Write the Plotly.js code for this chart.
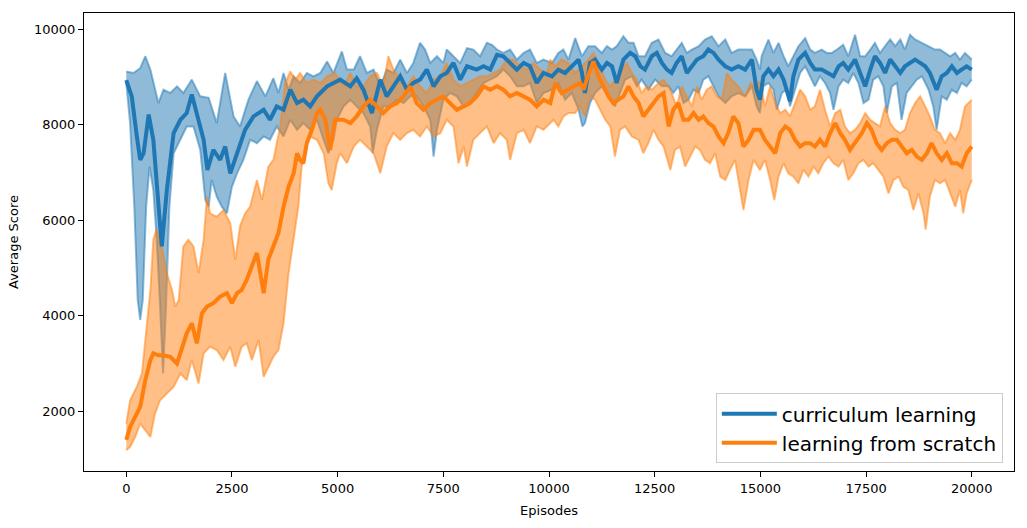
<!DOCTYPE html>
<html>
<head>
<meta charset="utf-8">
<script src="https://cdn.plot.ly/plotly-3.0.1.min.js"></script>
<style>
  html, body { margin: 0; padding: 0; background: #fff; }
  #chart { width: 1027px; height: 528px; }
</style>
</head>
<body>
<div id="chart"></div>
<script>
// values (episode, score)

var blueMeanEp = [0,130,250,330,410,530,640,760,840,960,1120,1280,1430,1550,1670,1830,1920,2060,2220,2340,2460,2620,2810,3010,3250,3400,3560,3720,3880,4040,4190,4350,4510,4750,
  5060,5300,5450,5610,5810,6010,6160,6320,6480,6640,6790,6950,7110,7270,7430,7580,7740,7900,8060,8290,8450,8610,8770,8920,9080,9240,9400,9550,9710,9870,
  10070,10220,10380,10540,10700,10780,10850,10970,11090,11250,11370,11490,11600,11760,11920,12040,12160,12270,12430,12550,12670,12790,12900,13020,13140,13260,13380,13500,13650,13770,13890,14010,14170,14320,14480,14640,14800,14910,14990,
  15070,15190,15310,15430,15550,15700,15780,15900,16060,16180,16290,16450,16610,16730,16850,16960,17080,17240,17360,17480,17600,17710,17830,17950,18070,18190,18310,18420,18540,18660,18780,18900,19010,19170,19290,19410,19530,19650,19760,19880,20000];
var blueMean = [8930,8590,7750,7260,7400,8210,7680,6280,5450,6630,7820,8100,8240,8630,8240,7680,7050,7470,7260,7540,6980,7400,7890,8170,8310,8100,8380,8310,8730,8450,8520,8380,8590,8800,
  8940,8800,8970,8730,8240,8940,8590,8800,9010,8730,8870,8940,9150,8800,9010,9080,9290,8940,9220,9150,9220,9150,9460,9430,9290,9150,9290,9220,8870,9080,
  9010,9150,9080,9220,9360,9080,8660,9290,9360,9150,9290,9220,8870,9360,9500,9430,9220,9150,9430,9500,9290,9150,9080,9290,9430,9080,9220,9360,9430,9570,9500,9360,9220,9150,9220,9150,9360,8730,8520,
  9010,9150,9010,9150,8940,8490,9010,9360,9500,9290,9150,9150,9080,9010,9220,9290,9150,9360,9080,8800,9150,9430,9290,9080,9360,9220,9080,9220,9290,9360,9290,9220,9080,8730,9010,9080,9220,9080,9150,9220,9150];

var blueUpEp = [0,170,330,450,570,640,760,880,1040,1200,1350,1550,1750,1950,2140,2340,2540,2690,2890,3090,3290,3480,3600,3720,3840,3960,4110,4270,4430,4590,4750,4900,
  5100,5220,5380,5530,5690,5850,6010,6160,6320,6480,6640,6790,6950,7070,7190,7350,7500,7580,7740,7900,8060,8210,8370,8530,8650,8770,8920,9080,9240,9400,9550,9710,9870,
  10070,10220,10340,10460,10620,10780,10930,11090,11250,11370,11490,11600,11760,11880,12000,12120,12270,12430,12590,12750,12900,13020,13140,13260,13380,13540,13690,13850,14010,14170,14320,14480,14640,14800,14910,14990,
  15030,15190,15310,15430,15550,15660,15780,15900,16060,16180,16290,16450,16570,16690,16810,16960,17080,17240,17360,17480,17600,17710,17830,17950,18070,18190,18310,18420,18540,18660,18820,18980,19130,19250,19370,19490,19610,19720,19840,20000];
var blueUp = [9110,9080,9180,9430,9150,8870,8450,8730,8660,8800,8660,8940,8590,8560,8030,9080,8170,7960,8520,8910,8590,8970,8660,9080,8730,9010,8870,9080,9010,9080,9320,9080,
  9530,9150,9150,9430,9080,9150,8800,9150,9080,9360,9080,9290,9710,9570,9290,9430,9290,9570,9430,9290,9600,9570,9430,9710,9670,9570,9500,9570,9360,9500,9570,9290,9360,
  9290,9500,9570,9360,9810,9430,9640,9640,9500,9640,9570,9640,9850,9710,9710,9430,9430,9710,9780,9500,9430,9570,9710,9500,9570,9640,9780,9850,9640,9780,9500,9570,9570,9570,9360,9150,
  9430,9780,9500,9710,9430,9220,9430,9640,9810,9570,9500,9570,9500,9500,9570,9670,9430,9880,9430,9430,9570,9710,9500,9640,9780,9640,9780,9570,9880,9780,9710,9640,9570,9570,9500,9430,9500,9360,9500,9360];

var blueLoEp = [0,90,190,270,330,390,470,550,640,720,800,870,940,1020,1120,1280,1430,1590,1750,1870,1950,2020,2140,2260,2380,2500,2620,2770,2930,3090,3250,3400,3560,3720,3880,4040,4190,4350,4510,4670,4780,4900,
  4980,5140,5300,5450,5610,5770,5830,5930,6080,6240,6400,6560,6720,6870,7030,7190,7270,7350,7500,7660,7820,7980,8130,8290,8450,8610,8770,8920,9080,9240,9400,9550,9710,9870,
  10070,10220,10380,10540,10700,10790,10850,10970,11090,11250,11410,11560,11680,11800,11960,12080,12190,12350,12510,12670,12830,12940,13060,13180,13300,13420,13540,13650,13770,13890,14010,14170,14320,14480,14640,14800,14910,14990,
  15070,15190,15310,15390,15510,15620,15700,15820,15940,16060,16180,16290,16410,16530,16650,16730,16850,16960,17080,17200,17320,17440,17560,17670,17790,17910,17990,18110,18230,18340,18460,18580,18700,18820,18980,19090,19170,19290,19410,19530,19650,19760,19880,20000];
var blueLo = [8870,8030,6280,4330,3910,4330,6280,7120,6630,5590,4190,2790,4190,6280,7400,7680,7960,7960,7470,6420,6280,6840,6490,6280,6140,6700,6980,7260,7680,7610,7750,7680,7960,7750,8100,7890,8030,7890,8100,7680,7400,7680,
  8100,8380,8520,8380,8240,7960,7400,7890,8380,8380,8520,8450,8590,8590,8380,8100,7330,7890,8520,8660,8590,8380,8450,8660,8870,8940,9010,9150,9010,8800,8800,8870,8450,8660,
  8730,8870,8520,8660,8310,7960,8030,8450,8660,8800,8590,8380,8660,8940,9010,8800,8940,8730,8940,8800,8800,8660,8800,8450,8520,8730,8660,8940,9010,8800,8590,8450,8590,8660,8590,8800,8380,8240,
  8800,8870,8730,8310,8660,8730,8380,8730,9080,9220,9010,8800,9010,8870,8660,8310,8800,8940,8870,9080,8870,8450,8520,8940,9010,8800,8240,8800,8870,8100,8660,8800,8940,9010,8730,8380,7890,8590,8520,8730,8660,8870,8800,8940];

var orangeMeanEp = [0,90,210,330,450,570,640,760,880,1040,1200,1310,1430,1550,1670,1790,1910,2060,2220,2380,2500,2620,2730,2850,2970,3090,3170,3250,3360,3480,3600,3720,3840,3960,4040,4110,4190,4270,4390,4510,4590,4710,4820,4940,
  5140,5300,5450,5610,5770,5930,6080,6240,6400,6560,6720,6870,7030,7190,7350,7500,7660,7820,7980,8130,8290,8450,8610,8770,8920,9080,9240,9400,9550,9710,9870,
  10030,10150,10300,10460,10620,10740,10820,10890,11050,11170,11290,11410,11520,11640,11760,11880,12000,12120,12230,12350,12470,12590,12710,12830,12940,13060,13180,13300,13420,13540,13650,13770,13890,14010,14130,14240,14360,14480,14600,14720,14840,14990,
  15110,15230,15350,15470,15590,15700,15820,15940,16060,16180,16290,16410,16530,16650,16770,16890,17000,17120,17240,17400,17520,17630,17750,17870,17990,18110,18230,18340,18460,18580,18700,18820,18940,19050,19170,19290,19410,19530,19650,19760,19880,20000];
var orangeMean = [1400,1670,1880,2090,2650,3070,3210,3170,3170,3140,3000,3280,3630,3840,3420,4050,4190,4260,4400,4470,4260,4470,4540,4750,5030,5310,4890,4470,5170,5450,5730,6280,6700,6980,7400,7260,7190,7610,7890,8240,8310,8100,7470,8100,
  8100,8030,8170,8380,8520,8380,8240,8380,8450,8590,8800,8450,8310,8450,8520,8590,8450,8310,8380,8450,8590,8800,8730,8800,8730,8590,8660,8590,8520,8380,8520,
  8450,8870,8660,8730,8800,8870,8730,8940,9320,9010,8800,8590,8450,8520,8590,8800,8590,8450,8170,8310,8450,8590,8660,7960,8310,8450,8100,8100,8240,8100,8170,8030,7960,7750,7610,7820,8170,8030,7540,7680,7890,7890,
  7680,7540,7400,7820,7960,7890,7680,7540,7610,7610,7540,7680,7540,7820,8030,7820,7680,7470,7610,7820,8030,7890,7610,7470,7610,7680,7680,7540,7400,7470,7330,7260,7400,7610,7400,7260,7400,7190,7190,7120,7400,7540];

var orangeUpEp = [0,90,250,370,450,570,640,710,840,960,1080,1160,1240,1350,1470,1590,1710,1830,1910,1980,2140,2300,2460,2580,2690,2810,2930,3090,3210,3360,3480,3640,3760,3880,4000,4110,4270,4430,4590,4750,4940,
  5140,5300,5450,5610,5770,5930,6080,6200,6320,6480,6640,6790,6950,7110,7270,7430,7580,7740,7900,8060,8210,8370,8530,8690,8840,9000,9160,9320,9480,9630,9790,9950,
  10030,10150,10300,10460,10620,10780,10930,11050,11170,11330,11450,11560,11680,11840,11960,12080,12190,12310,12430,12590,12710,12830,12900,13020,13140,13260,13380,13500,13610,13730,13850,13970,14090,14210,14320,14480,14640,14760,14880,14990,
  15110,15230,15350,15470,15590,15700,15820,15940,16060,16180,16290,16410,16530,16650,16770,16890,17000,17120,17240,17360,17480,17600,17710,17830,17950,18070,18190,18310,18420,18540,18660,18780,18900,19010,19130,19250,19370,19490,19610,19720,19840,20000];
var orangeUp = [1740,2230,2510,2790,3490,4540,5590,5800,5450,4890,4540,4190,4330,5450,5590,5450,4890,5590,6490,6140,6070,6210,5940,5170,5870,6140,6280,6840,6420,7120,7260,7960,8870,9110,8940,9080,8870,8940,8870,9010,9080,
  8800,9080,8800,8800,9010,9080,8800,9430,9150,8940,8800,9010,8800,8660,8940,9010,9290,8940,8800,8870,8940,9010,9010,9080,9150,9360,9360,9220,9150,9290,9150,9080,
  9360,9220,9360,9290,9080,9220,9360,9500,9290,8940,8800,8940,9080,9290,9080,8940,8660,8800,8730,8870,8940,8800,8660,8380,8800,8590,8380,8800,8520,8730,8800,8590,8520,9080,8940,8800,8590,8870,8800,8900,
  8380,8800,8450,8240,8310,8170,8450,8730,8590,8310,8380,8730,8310,7960,8240,8310,7960,7820,7890,8030,8240,8100,8030,7960,8380,8030,7890,7820,7890,8240,8450,8590,8380,8170,7890,7820,7610,7820,7680,7890,8380,8520];

var orangeLoEp = [0,90,210,330,450,570,680,800,960,1120,1280,1430,1550,1710,1830,1980,2140,2300,2460,2580,2730,2850,2970,3130,3250,3360,3480,3600,3720,3840,3960,4070,4150,4230,4350,4510,4670,4780,4860,
  4980,5060,5220,5380,5530,5690,5850,6010,6160,6320,6480,6640,6790,6950,7110,7270,7430,7580,7740,7860,7980,8060,8210,8370,8530,8690,8840,9000,9080,9240,9400,9550,9710,9870,10030,
  10110,10220,10340,10460,10620,10740,10850,10970,11090,11210,11330,11450,11560,11680,11800,11960,12120,12230,12350,12470,12590,12710,12870,12980,13100,13220,13340,13460,13570,13690,13810,13930,14050,14170,14280,14400,14520,14600,14720,14840,14990,
  15110,15230,15330,15430,15550,15660,15780,15900,16020,16140,16260,16370,16490,16610,16730,16850,16960,17080,17200,17320,17440,17560,17670,17790,17910,18030,18150,18270,18380,18500,18620,18740,18860,18910,19010,19130,19250,19370,19490,19610,19720,19800,19880,20000];
var orangeLo = [1180,1250,1460,1740,1600,1460,1950,2230,2370,2510,2790,2650,3070,2580,3210,3350,3280,3070,3350,2930,3350,3420,3070,3490,2720,2930,3140,3280,3840,4890,5590,6280,7120,7540,7750,7680,7400,6770,6630,
  7190,7400,7190,7540,7680,7540,7400,6980,7540,7820,7680,7820,7890,7750,7960,7750,7820,8100,7960,7190,7540,7120,7680,7820,7960,7610,7820,7680,7260,7820,7890,7610,7960,7890,8030,
  8100,7960,8170,8240,8240,8380,8170,8590,8520,8310,8100,7960,7330,7890,7960,7750,7680,7400,7610,7890,7680,7540,7050,7470,7540,7120,7330,7540,7470,7260,7190,7400,6910,6840,7050,7260,6630,6210,6840,7260,7050,
  7260,6840,6420,6910,7190,6980,6910,6770,7050,6910,7120,6980,7190,7330,7190,7120,7260,6840,6980,7190,7260,7120,7190,7050,6910,6560,6840,6910,6700,6630,6210,6560,6140,5800,6490,6840,6770,6840,6560,6280,6630,6140,6560,6840];

var seriesNames = ['curriculum learning', 'learning from scratch'];
var seriesColors = ['31,119,180', '255,127,14'];

function bandTrace(upEp, up, loEp, lo, rgb) {
  return {
    x: upEp.concat(loEp.slice().reverse()),
    y: up.concat(lo.slice().reverse()),
    type: 'scatter', mode: 'lines', fill: 'toself',
    fillcolor: 'rgba(' + rgb + ',0.5)',
    line: {width: 0},
    showlegend: false, hoverinfo: 'skip'
  };
}

function edgeTrace(ep, val, rgb) {
  return {
    x: ep, y: val, type: 'scatter', mode: 'lines',
    line: {color: 'rgba(' + rgb + ',0.5)', width: 2},
    showlegend: false, hoverinfo: 'skip'
  };
}

function meanTrace(ep, val, i) {
  return {
    x: ep, y: val, type: 'scatter', mode: 'lines',
    name: seriesNames[i],
    line: {color: 'rgb(' + seriesColors[i] + ')', width: 4},
    hoverinfo: 'skip'
  };
}

var data = [
  bandTrace(blueUpEp, blueUp, blueLoEp, blueLo, seriesColors[0]),
  edgeTrace(blueUpEp, blueUp, seriesColors[0]),
  edgeTrace(blueLoEp, blueLo, seriesColors[0]),
  bandTrace(orangeUpEp, orangeUp, orangeLoEp, orangeLo, seriesColors[1]),
  edgeTrace(orangeUpEp, orangeUp, seriesColors[1]),
  edgeTrace(orangeLoEp, orangeLo, seriesColors[1]),
  meanTrace(blueMeanEp, blueMean, 0),
  meanTrace(orangeMeanEp, orangeMean, 1)
];

var axisCommon = {
  showgrid: false, zeroline: false,
  showline: true, mirror: true, linecolor: '#000', linewidth: 1,
  ticks: 'outside', ticklen: 5, tickwidth: 1, tickcolor: '#000',
  tickfont: {family: 'DejaVu Sans', size: 13, color: '#000'},
  tickformat: 'd'
};

var layout = {
  width: 1027, height: 528,
  margin: {l: 84, r: 13, t: 13, b: 57},
  paper_bgcolor: '#fff', plot_bgcolor: '#fff',
  font: {family: 'DejaVu Sans', color: '#000'},
  showlegend: true,
  legend: {
    x: 0.988, y: 0.017, xanchor: 'right', yanchor: 'bottom',
    bgcolor: 'rgba(255,255,255,0.8)', bordercolor: '#ccc', borderwidth: 1,
    font: {family: 'DejaVu Sans', size: 20, color: '#000'},
    itemwidth: 55, tracegroupgap: 0
  },
  xaxis: Object.assign({}, axisCommon, {
    range: [-1000, 21000], tick0: 0, dtick: 2500,
    title: {text: 'Episodes', font: {family: 'DejaVu Sans', size: 13}, standoff: 11}
  }),
  yaxis: Object.assign({}, axisCommon, {
    range: [748, 10335], tick0: 0, dtick: 2000,
    title: {text: 'Average Score', font: {family: 'DejaVu Sans', size: 13}, standoff: 12}
  })
};

Plotly.newPlot('chart', data, layout, {displayModeBar: false, staticPlot: true});
</script>
</body>
</html>
